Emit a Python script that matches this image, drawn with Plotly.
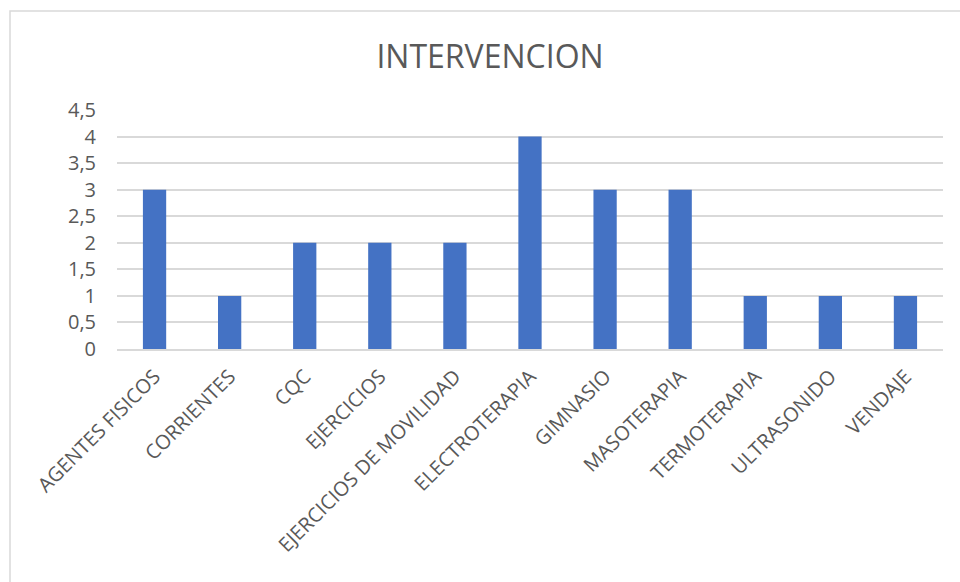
import plotly.graph_objects as go

categories = ["AGENTES FISICOS", "CORRIENTES", "CQC", "EJERCICIOS",
              "EJERCICIOS DE MOVILIDAD", "ELECTROTERAPIA", "GIMNASIO",
              "MASOTERAPIA", "TERMOTERAPIA", "ULTRASONIDO", "VENDAJE"]
values = [3, 1, 2, 2, 2, 4, 3, 3, 1, 1, 1]
y_ticks = [0, 0.5, 1, 1.5, 2, 2.5, 3, 3.5, 4, 4.5]

W, H = 960, 582
L, R, T, B = 117, 17, 110, 233
pw, ph = W - L - R, H - T - B

def px_x(px):
    return (px - L) / pw

def px_y(py):
    return (H - B - py) / ph

fig = go.Figure(go.Bar(x=categories, y=values, marker_color="#4472c4",
                       marker_line_width=0))

fig.update_layout(
    width=W, height=H,
    margin=dict(l=L, r=R, t=T, b=B),
    paper_bgcolor="white", plot_bgcolor="white",
    separators=", ",
    bargap=0.69,
    showlegend=False,
    font=dict(family="'Open Sans', sans-serif", color="#595959"),
    title=dict(text="INTERVENCION", x=490 / W, xanchor="center",
               y=1 - 57 / H, yanchor="middle",
               font=dict(size=32, color="#595959")),
    shapes=[dict(type="rect", xref="paper", yref="paper",
                 x0=px_x(10), x1=px_x(980), y0=px_y(600), y1=px_y(11),
                 line=dict(color="#d9d9d9", width=1.5), layer="below")],
)

fig.update_yaxes(range=[0, 4.5], tickvals=y_ticks,
                 ticktext=[f"{v:g}".replace(".", ",") for v in y_ticks],
                 showgrid=True, gridcolor="#d9d9d9", gridwidth=1.5,
                 zeroline=False, showline=False, ticks="",
                 ticklabelstandoff=20,
                 tickfont=dict(size=20, color="#595959"))
fig.update_xaxes(showline=True, linecolor="#d9d9d9", linewidth=2,
                 showgrid=False, ticks="", tickangle=-45,
                 ticklabelstandoff=6,
                 tickfont=dict(size=20, color="#595959"))

fig.write_html("out.html")
